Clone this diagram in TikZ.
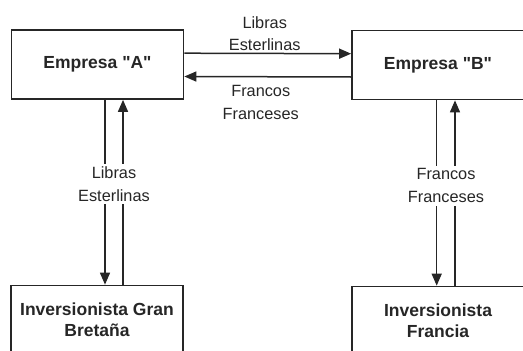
\documentclass[tikz,border=0pt]{standalone}
\usepackage{fontspec}
\setmainfont{Liberation Sans}[Ligatures=TeXOff]
\usetikzlibrary{arrows.meta}
\definecolor{ink}{HTML}{262626}
\tikzset{
  party/.style={draw=ink, line width=1.7pt, minimum width=172pt, minimum height=69pt,
    align=center, text=ink, inner sep=0pt,
    font=\bfseries\fontsize{17.5}{21}\selectfont},
  flow/.style={draw=ink, line width=1.5pt, -{Triangle[length=12pt,width=10pt]}},
  money/.style={align=center, text=ink, font=\fontsize{16.3}{22.5}\selectfont},
  moneycut/.style={money, fill=white, inner sep=3pt}
}
\begin{document}
\begin{tikzpicture}[x=1pt, y=-1pt]
  \useasboundingbox (0,0) rectangle (523,351);
  \clip (0,0) rectangle (523,351);

  % companies and investors
  \node[party] (A)  at (97.5,64.5) {Empresa "A"};
  \node[party] (B)  at (438,65)    {Empresa "B"};
  \node[party] (GB) at (97,320)    {Inversionista Gran\\Bretaña};
  \node[party] (FR) at (438,321)   {Inversionista\\Francia};

  % exchange between the two companies
  \draw[flow] ([yshift=11.3pt]A.east) -- node[money, above, inner sep=2pt, xshift=-3pt] {Libras\\Esterlinas} ([yshift=11.3pt]B.west);
  \draw[flow] ([yshift=-12pt]B.west) -- node[money, below, inner sep=3pt, xshift=-7pt, yshift=-5pt] {Francos\\Franceses} ([yshift=-12pt]A.east);

  % company A with the British investor
  \draw[flow] ([xshift=7.5pt]A.south) -- ([xshift=8pt]GB.north);
  \draw[flow] ([xshift=26pt]GB.north) -- ([xshift=25.5pt]A.south);
  \path ([xshift=16.5pt]A.south) -- node[moneycut, pos=0.455, minimum width=24pt] {Libras\\Esterlinas} ([xshift=17pt]GB.north);

  % company B with the French investor
  \draw[flow] ([xshift=-1.3pt]B.south) -- ([xshift=-1.3pt]FR.north);
  \draw[flow] ([xshift=17pt]FR.north) -- ([xshift=17pt]B.south);
  \path ([xshift=8pt]B.south) -- node[moneycut, pos=0.46] {Francos\\Franceses} ([xshift=8pt]FR.north);
\end{tikzpicture}
\end{document}
